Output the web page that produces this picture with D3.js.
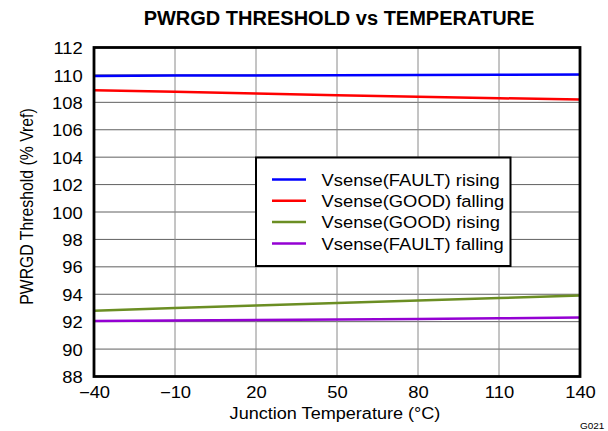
<!DOCTYPE html>
<html><head><meta charset="utf-8">
<script src="https://cdn.jsdelivr.net/npm/d3@7"></script>
<style>body{margin:0;background:#fff}svg{display:block;font-family:"Liberation Sans",Arial,sans-serif}</style>
</head><body><svg id="c" width="608" height="431"></svg>
<script>
const temps = [-40, -10, 20, 50, 80, 110, 140];
const faultRising = [109.93, 109.95, 109.96, 109.98, 109.99, 110.01, 110.03];
const goodFalling = [108.88, 108.78, 108.65, 108.52, 108.40, 108.30, 108.20];
const goodRising = [92.80, 93.00, 93.18, 93.36, 93.55, 93.72, 93.90];
const faultFalling = [92.05, 92.08, 92.12, 92.16, 92.20, 92.25, 92.30];
const seriesNames = ["Vsense(FAULT) rising", "Vsense(GOOD) falling", "Vsense(GOOD) rising", "Vsense(FAULT) falling"];
const seriesColors = ["#0000ff", "#ff0000", "#6b8e23", "#9400d3"];
const xTicks = [-40, -10, 20, 50, 80, 110, 140];
const yTicks = [88, 90, 92, 94, 96, 98, 100, 102, 104, 106, 108, 110, 112];
const series = [faultRising, goodFalling, goodRising, faultFalling];

const svg = d3.select("#c");
const L = 94, R = 580, T = 47.5, B = 376.5;
const x = d3.scaleLinear().domain([-40, 140]).range([L, R]);
const y = d3.scaleLinear().domain([88, 112]).range([B, T]);
const SX = 1.15;

// grid
svg.append("g").selectAll("line").data(yTicks).join("line")
  .attr("x1", L).attr("x2", R).attr("y1", d => y(d)).attr("y2", d => y(d))
  .attr("stroke", "#606060").attr("stroke-width", 1);
svg.append("g").selectAll("line").data(xTicks).join("line")
  .attr("y1", T).attr("y2", B).attr("x1", d => x(d)).attr("x2", d => x(d))
  .attr("stroke", "#8a8a8a").attr("stroke-width", 1);

// series
const line = d3.line().x((d, i) => x(temps[i])).y(d => y(d));
series.forEach((s, k) => {
  svg.append("path").datum(s).attr("d", line).attr("fill", "none")
    .attr("stroke", seriesColors[k]).attr("stroke-width", 2.5);
});

// border
svg.append("rect").attr("x", L).attr("y", T).attr("width", R - L).attr("height", B - T)
  .attr("fill", "none").attr("stroke", "#000").attr("stroke-width", 2.8);

// axes labels
const xAxis = d3.axisBottom(x).tickValues(xTicks).tickSize(0).tickPadding(10)
  .tickFormat(d => d < 0 ? "\u2212" + Math.abs(d) : d);
const gx = svg.append("g").attr("transform", `translate(0,${B})`).call(xAxis);
gx.select(".domain").remove();
gx.selectAll("text").attr("font-size", 16).attr("fill", "#000")
  .attr("font-family", "Liberation Sans, Arial, sans-serif")
  .attr("transform", `scale(${SX},1)`);

const yAxis = d3.axisLeft(y).tickValues(yTicks).tickSize(0).tickPadding(11);
const gy = svg.append("g").attr("transform", `translate(${L},0)`).call(yAxis);
gy.select(".domain").remove();
gy.selectAll("text").attr("font-size", 16).attr("fill", "#000")
  .attr("font-family", "Liberation Sans, Arial, sans-serif").attr("dy", "0.38em")
  .attr("x", -11.3 / SX).attr("transform", `scale(${SX},1)`);

// title
svg.append("text").attr("transform", "translate(339,25)").attr("text-anchor", "middle")
  .attr("font-size", 20).attr("font-weight", "bold").text("PWRGD THRESHOLD vs TEMPERATURE");
svg.append("text").attr("transform", `translate(335,419) scale(1.13,1)`).attr("text-anchor", "middle")
  .attr("font-size", 16).text("Junction Temperature (°C)");
svg.append("text").attr("transform", `translate(33,206.5) rotate(-90) scale(1,1.13)`).attr("text-anchor", "middle")
  .attr("font-size", 15.8).text("PWRGD Threshold (% Vref)");
svg.append("text").attr("transform", "translate(580,429) scale(1.05,1)")
  .attr("font-size", 9.5).text("G021");

// legend
const lg = svg.append("g");
lg.append("rect").attr("x", 256).attr("y", 157.5).attr("width", 254.5).attr("height", 108.5)
  .attr("fill", "#fff").attr("stroke", "#000").attr("stroke-width", 2);
seriesNames.forEach((n, i) => {
  const yy = 179.5 + i * 21.3;
  lg.append("line").attr("x1", 272).attr("x2", 306).attr("y1", yy).attr("y2", yy)
    .attr("stroke", seriesColors[i]).attr("stroke-width", 2.5);
  lg.append("text").attr("transform", `translate(321.5,${yy}) scale(1.08,1)`)
    .attr("dy", "0.36em").attr("font-size", 17).text(n);
});
</script></body></html>
